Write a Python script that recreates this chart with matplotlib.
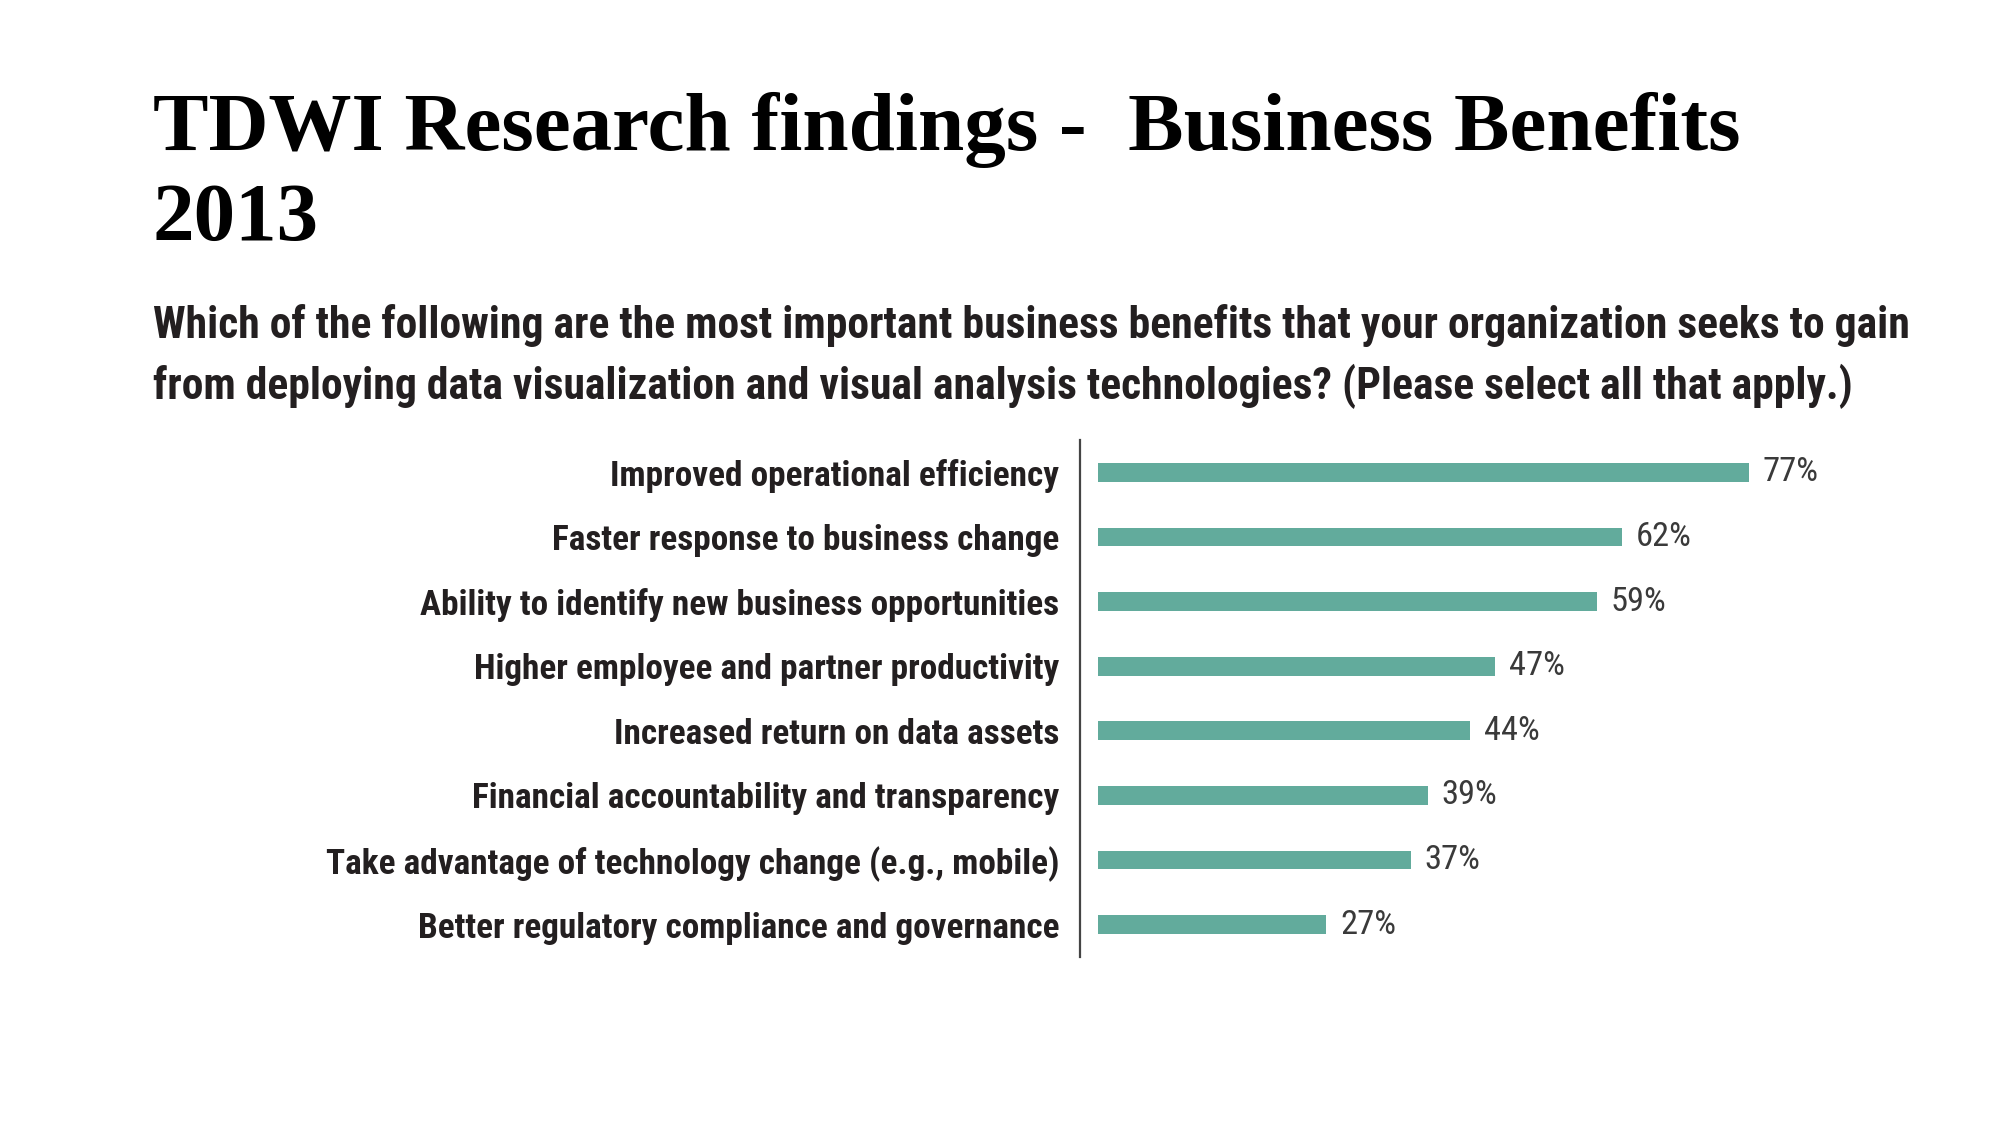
import matplotlib
matplotlib.use("Agg")
import matplotlib.pyplot as plt
from matplotlib import font_manager as fm

# ---- data ----
title_lines = ["TDWI Research findings -  Business Benefits", "2013"]
question_lines = [
    "Which of the following are the most important business benefits that your organization seeks to gain",
    "from deploying data visualization and visual analysis technologies? (Please select all that apply.)",
]
categories = [
    "Improved operational efficiency",
    "Faster response to business change",
    "Ability to identify new business opportunities",
    "Higher employee and partner productivity",
    "Increased return on data assets",
    "Financial accountability and transparency",
    "Take advantage of technology change (e.g., mobile)",
    "Better regulatory compliance and governance",
]
values = [77, 62, 59, 47, 44, 39, 37, 27]
value_labels = [f"{v}%" for v in values]

# ---- fonts ----
names = {f.name for f in fm.fontManager.ttflist}
def pick(*cands):
    for c in cands:
        if c in names:
            return c
    return "DejaVu Sans"

narrow = pick("Liberation Sans Narrow", "DejaVu Sans Condensed", "Roboto Condensed", "Liberation Sans")
serif = pick("Liberation Serif", "DejaVu Serif")

W, H = 2000, 1125
fig = plt.figure(figsize=(W / 100, H / 100), dpi=100)
fig.patch.set_facecolor("white")
renderer = fig.canvas.get_renderer()

def fy(px):
    return 1 - px / H

def fit(txt, target_w):
    w = txt.get_window_extent(renderer).width
    txt.set_fontsize(txt.get_fontsize() * target_w / w)
    return txt.get_fontsize()

# title
t1 = fig.text(153 / W, fy(150), title_lines[0], family=serif, weight="bold",
              fontsize=60, color="black", va="baseline", ha="left")
fs_title = fit(t1, 1588)
fig.text(153 / W, fy(240), title_lines[1], family=serif, weight="bold",
         fontsize=fs_title, color="black", va="baseline", ha="left")

# question
q1 = fig.text(153 / W, fy(338), question_lines[0], family=narrow, weight="bold",
              fontsize=30, color="#231f20", va="baseline", ha="left")
fs_q = fit(q1, 1760)
fig.text(153 / W, fy(399), question_lines[1], family=narrow, weight="bold",
         fontsize=fs_q, color="#231f20", va="baseline", ha="left")

# chart axes
ax_left, ax_right, ax_top, ax_bot = 1080, 1960, 440, 957
ax = fig.add_axes([ax_left / W, 1 - ax_bot / H, (ax_right - ax_left) / W, (ax_bot - ax_top) / H])
ppu = (1749 - 1098) / 77.0
x0 = -(1098 - ax_left) / ppu
ax.set_xlim(x0, x0 + (ax_right - ax_left) / ppu)
ypos = list(range(len(categories)))
ax.set_ylim(len(categories) - 0.5, -0.5)

ax.barh(ypos, values, height=0.29, color="#62ab9c", left=0)

for i, (v, lab) in enumerate(zip(values, value_labels)):
    ax.annotate(lab, xy=(v, i), xytext=(10, 0), textcoords="offset points",
                va="center", ha="left", family=narrow, fontsize=20, color="#3a3a3a")
fs_val = fit(ax.texts[0], 56)
for t in ax.texts:
    t.set_fontsize(fs_val)

# category labels fitted to width
tmp = fig.text(0, 0, categories[6], family=narrow, weight="bold", fontsize=20)
fs_cat = fit(tmp, 734)
tmp.remove()

ax.set_yticks(ypos, labels=categories)
for lab in ax.get_yticklabels():
    lab.set_family(narrow)
    lab.set_weight("bold")
    lab.set_fontsize(fs_cat)
    lab.set_color("#231f20")
ax.tick_params(axis="y", length=0, pad=(ax_left - 1059) * 0.72)
ax.set_xticks([])
for s in ["top", "right", "bottom"]:
    ax.spines[s].set_visible(False)
ax.spines["left"].set_color("#444444")
ax.spines["left"].set_linewidth(1.6)
ax.set_facecolor("none")

fig.savefig("out.png", dpi=100, facecolor="white")
